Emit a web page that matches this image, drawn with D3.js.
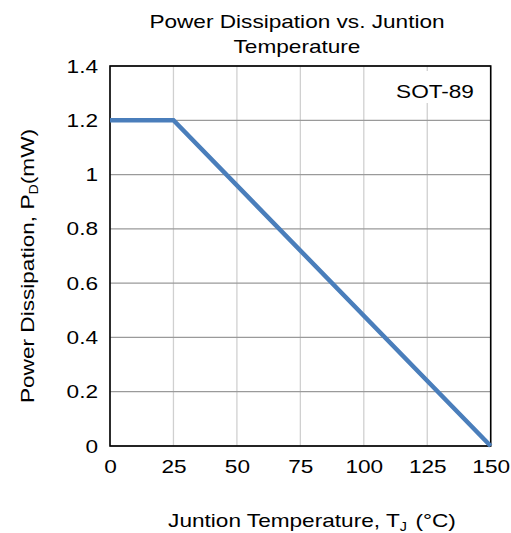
<!DOCTYPE html>
<html><head><meta charset="utf-8">
<script src="https://cdn.jsdelivr.net/npm/d3@7"></script>
<style>body{margin:0;background:#fff}svg{display:block}text{font-family:"Liberation Sans",Arial,sans-serif;fill:#000}</style>
</head><body><svg id="c" width="511" height="533"></svg>
<script>
const tempC = [0, 25, 150];
const powerMW = [1.2, 1.2, 0];
const xTicks = [0, 25, 50, 75, 100, 125, 150];
const yTicks = [0, 0.2, 0.4, 0.6, 0.8, 1, 1.2, 1.4];
const titleLines = ["Power Dissipation vs. Juntion", "Temperature"];
const packageLabel = "SOT-89";

const FS = 19, SX = 1.19;
const svg = d3.select("#c");
const L = 110, R = 490.7, T = 66, B = 446;
const x = d3.scaleLinear().domain([0, 150]).range([L, R]);
const y = d3.scaleLinear().domain([0, 1.4]).range([B, T]);

function label(px, py, rot) {
  return svg.append("g").attr("transform", `translate(${px},${py})${rot ? " rotate(-90)" : ""} scale(${SX},1)`)
    .append("text").attr("text-anchor", "middle").attr("font-size", FS);
}

// vertical gridlines
svg.append("g").selectAll("line").data(xTicks).join("line")
  .attr("x1", d => x(d)).attr("x2", d => x(d)).attr("y1", T).attr("y2", B)
  .attr("stroke", "#d0d0d0").attr("stroke-width", 1.3);
// horizontal gridlines
svg.append("g").selectAll("line").data(yTicks).join("line")
  .attr("x1", L).attr("x2", R).attr("y1", d => y(d)).attr("y2", d => y(d))
  .attr("stroke", "#9a9a9a").attr("stroke-width", 1.3);

// label box
svg.append("rect").attr("x", 390).attr("y", 71).attr("width", 92).attr("height", 32).attr("fill", "#fff");
label(435, 98, false).text(packageLabel);

// frame
svg.append("rect").attr("x", L).attr("y", T).attr("width", R - L).attr("height", B - T)
  .attr("fill", "none").attr("stroke", "#000").attr("stroke-width", 1.6);

// line
const pts = tempC.map((t, i) => [t, powerMW[i]]);
svg.append("path").datum(pts)
  .attr("d", d3.line().x(d => x(d[0])).y(d => y(d[1])))
  .attr("fill", "none").attr("stroke", "#4a7ebb").attr("stroke-width", 4.5)
  .attr("stroke-linejoin", "miter");

// axes
const xAxis = d3.axisBottom(x).tickValues(xTicks).tickSize(0).tickPadding(14).tickFormat(d3.format("d"));
const gx = svg.append("g").attr("transform", `translate(0,${B})`).call(xAxis);
gx.select(".domain").remove();
gx.selectAll("text").attr("font-size", FS).attr("font-family", '"Liberation Sans",Arial,sans-serif').attr("fill", "#000")
  .attr("transform", `scale(${SX},1)`);

const yAxis = d3.axisLeft(y).tickValues(yTicks).tickSize(0).tickPadding(12).tickFormat(d => d3.format("")(+d.toFixed(1)));
const gy = svg.append("g").attr("transform", `translate(${L},0)`).call(yAxis);
gy.select(".domain").remove();
gy.selectAll("g.tick").each(function () {
  const t = d3.select(this).select("text");
  t.attr("x", -12 / SX);
});
gy.selectAll("text").attr("font-size", FS).attr("font-family", '"Liberation Sans",Arial,sans-serif').attr("fill", "#000")
  .attr("transform", `scale(${SX},1)`);

// title
titleLines.forEach((s, i) => label(297, 28 + i * 25, false).text(s));

// x label
const xl = label(312, 527, false);
xl.append("tspan").text("Juntion Temperature, T");
xl.append("tspan").attr("font-size", 12).attr("dy", 4).text("J");
xl.append("tspan").attr("dy", -4).attr("dx", 2).text(" (°C)");

// y label
const yl = label(34, 266, true);
yl.append("tspan").text("Power Dissipation, P");
yl.append("tspan").attr("font-size", 12).attr("dy", 4).text("D");
yl.append("tspan").attr("dy", -4).text("(mW)");
</script></body></html>
